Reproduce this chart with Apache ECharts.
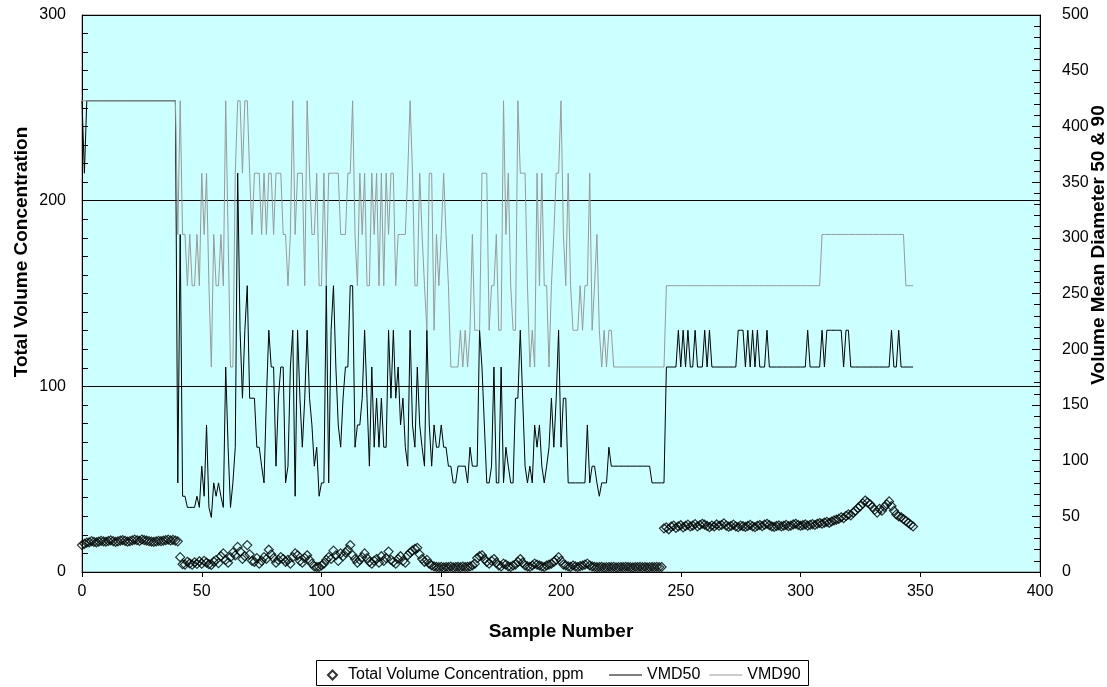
<!DOCTYPE html>
<html>
<head>
<meta charset="utf-8">
<title>Total Volume Concentration and VMD</title>
<script src="https://cdn.jsdelivr.net/npm/echarts@6/dist/echarts.min.js"></script>
<style>
  html, body { margin: 0; padding: 0; background: #fff; }
  #main { width: 1107px; height: 687px; }
</style>
</head>
<body>
<div id="main"></div>
<script>
// sample numbers start at 0, one value per sample
var firstSample = 0;

// total volume concentration, ppm (left axis)
var concentration = [
  14.5, 15.2, 15.8, 16.0, 16.6, 16.2, 16.0, 16.4, 16.8, 16.5,
  16.3, 16.7, 17.0, 16.6, 16.2, 16.5, 16.9, 17.2, 16.8, 16.4,
  16.6, 17.0, 17.4, 17.1, 16.8, 17.5, 17.2, 16.9, 16.6, 16.4,
  16.2, 16.5, 16.8, 16.6, 16.9, 17.2, 17.4, 17.0, 17.3, 16.9,
  16.5, 8.0, 4.2, 4.0, 5.5, 4.6, 4.0, 5.2, 4.4, 5.8,
  4.5, 6.0, 5.0, 4.2, 3.8, 5.6, 6.4, 4.8, 8.5, 10.0,
  6.5, 5.0, 8.0, 10.5, 9.0, 13.5, 11.0, 7.0, 8.5, 14.5,
  9.5, 6.0, 5.5, 7.5, 4.5, 6.0, 8.0, 7.0, 12.0, 9.5,
  7.5, 5.0, 6.5, 8.0, 7.0, 5.5, 6.5, 4.5, 8.0, 10.0,
  9.0, 6.0, 5.0, 7.5, 9.0, 6.5, 4.5, 3.0, 2.7, 2.8,
  3.5, 4.5, 6.5, 8.0, 7.0, 11.5, 9.0, 6.0, 10.0, 8.5,
  10.5, 12.0, 14.5, 9.0, 7.0, 5.0, 6.5, 8.0, 10.0, 7.5,
  5.5, 4.5, 6.0, 7.0, 5.0, 8.5, 6.0, 7.5, 11.0, 6.5,
  5.5, 4.5, 7.0, 8.5, 6.0, 5.0, 9.0, 10.5, 11.5, 12.5,
  13.0, 9.5, 7.0, 5.5, 6.5, 4.5, 3.5, 3.0, 2.8, 2.6,
  2.8, 2.5, 2.7, 2.6, 2.9, 2.5, 2.7, 2.8, 2.6, 2.9,
  2.7, 2.8, 3.0, 3.5, 4.5, 7.5, 8.5, 9.0, 7.0, 5.5,
  4.5, 6.0, 7.0, 5.0, 3.5, 3.0, 4.5, 4.0, 3.0, 2.8,
  3.5, 4.0, 5.5, 7.0, 5.0, 3.5, 3.0, 2.8, 3.5, 4.5,
  4.0, 3.5, 3.0, 2.7, 3.5, 4.0, 4.5, 5.5, 6.5, 8.0,
  6.0, 4.0, 3.5, 3.0, 2.8, 3.5, 3.0, 2.7, 3.2, 3.5,
  4.0, 4.5, 3.5, 3.0, 2.8, 2.6, 2.7, 2.8, 2.5, 2.6,
  2.7, 2.6, 2.8, 2.5, 2.6, 2.7, 2.6, 2.8, 2.7, 2.6,
  2.5, 2.7, 2.6, 2.8, 2.6, 2.7, 2.5, 2.6, 2.7, 2.6,
  2.8, 2.6, 2.7, 23.5, 24.0, 23.0, 24.5, 25.0, 23.8, 24.6,
  25.2, 24.0, 24.8, 25.5, 24.5, 25.0, 25.8, 24.6, 25.3, 26.0,
  25.5, 24.8, 24.2, 25.0, 24.5, 25.6, 24.9, 25.3, 26.2, 25.0,
  24.4, 24.8, 25.5, 24.6, 24.2, 25.0, 24.7, 24.3, 24.8, 25.4,
  24.6, 24.2, 24.9, 25.3, 24.7, 25.5, 26.0, 25.2, 24.6, 24.3,
  24.8, 25.1, 24.6, 24.9, 25.4, 24.7, 25.0, 25.6, 26.0, 25.3,
  24.9, 25.2, 25.6, 25.0, 25.4, 25.8, 25.3, 26.0, 26.4, 26.0,
  26.6, 27.0, 26.5, 27.2, 27.8, 28.2, 28.6, 29.5, 29.0, 30.2,
  31.0, 30.5, 32.0, 33.0, 34.5, 35.5, 37.0, 38.5, 37.5, 36.5,
  35.0, 33.5, 32.0, 34.0, 33.0, 35.0, 36.5, 38.0, 35.5, 33.0,
  31.0, 30.0, 29.5, 28.5, 27.5, 26.5, 25.5, 24.5
];

// VMD50 (right axis)
var vmd50 = [
  423, 358, 423, 423, 423, 423, 423, 423, 423, 423,
  423, 423, 423, 423, 423, 423, 423, 423, 423, 423,
  423, 423, 423, 423, 423, 423, 423, 423, 423, 423,
  423, 423, 423, 423, 423, 423, 423, 423, 423, 423,
  80, 303, 68, 68, 58, 58, 58, 58, 68, 58,
  95, 68, 132, 58, 49, 80, 68, 80, 68, 58,
  184, 112, 58, 80, 112, 358, 217, 156, 217, 257,
  156, 156, 156, 112, 112, 95, 80, 156, 217, 184,
  184, 95, 156, 184, 184, 80, 95, 184, 217, 68,
  217, 156, 112, 156, 217, 156, 132, 95, 112, 68,
  80, 80, 257, 80, 217, 257, 184, 132, 112, 156,
  184, 184, 257, 257, 112, 132, 132, 156, 217, 156,
  95, 184, 112, 156, 112, 156, 112, 112, 217, 156,
  217, 156, 184, 132, 156, 112, 95, 217, 132, 112,
  184, 132, 112, 95, 217, 132, 95, 132, 112, 112,
  132, 112, 112, 95, 95, 80, 80, 95, 95, 95,
  95, 80, 112, 95, 95, 95, 217, 184, 132, 80,
  80, 95, 184, 80, 80, 184, 80, 112, 95, 80,
  80, 156, 156, 217, 156, 95, 80, 95, 80, 132,
  112, 132, 95, 80, 95, 112, 156, 112, 156, 217,
  112, 156, 156, 80, 80, 80, 80, 80, 80, 80,
  80, 132, 80, 95, 95, 80, 68, 80, 80, 80,
  112, 95, 95, 95, 95, 95, 95, 95, 95, 95,
  95, 95, 95, 95, 95, 95, 95, 95, 80, 80,
  80, 80, 80, 80, 184, 184, 184, 184, 184, 217,
  184, 217, 184, 217, 184, 184, 217, 184, 184, 184,
  217, 184, 217, 184, 184, 184, 184, 184, 184, 184,
  184, 184, 184, 184, 217, 217, 217, 184, 217, 184,
  217, 184, 217, 184, 184, 184, 217, 184, 184, 184,
  184, 184, 184, 184, 184, 184, 184, 184, 184, 184,
  184, 184, 184, 217, 184, 184, 184, 184, 184, 217,
  184, 217, 217, 217, 217, 217, 217, 217, 184, 217,
  217, 184, 184, 184, 184, 184, 184, 184, 184, 184,
  184, 184, 184, 184, 184, 184, 184, 184, 217, 184,
  184, 217, 184, 184, 184, 184, 184, 184
];

// VMD90 (right axis)
var vmd90 = [
  423, 423, 423, 423, 423, 423, 423, 423, 423, 423,
  423, 423, 423, 423, 423, 423, 423, 423, 423, 423,
  423, 423, 423, 423, 423, 423, 423, 423, 423, 423,
  423, 423, 423, 423, 423, 423, 423, 423, 423, 423,
  303, 423, 303, 303, 257, 303, 257, 257, 303, 257,
  358, 303, 358, 257, 184, 303, 257, 257, 303, 257,
  423, 303, 184, 184, 358, 423, 423, 358, 423, 423,
  358, 303, 358, 358, 358, 303, 358, 303, 358, 358,
  303, 358, 358, 358, 303, 303, 257, 303, 423, 303,
  358, 358, 358, 257, 423, 358, 303, 303, 358, 257,
  257, 358, 257, 358, 358, 358, 358, 358, 303, 303,
  303, 358, 358, 423, 303, 257, 358, 303, 358, 257,
  257, 358, 303, 358, 257, 358, 257, 358, 303, 358,
  358, 257, 303, 303, 303, 303, 358, 423, 358, 257,
  257, 358, 303, 257, 217, 358, 358, 217, 303, 257,
  303, 358, 303, 257, 184, 184, 184, 184, 217, 184,
  217, 184, 217, 303, 217, 217, 217, 358, 358, 358,
  217, 257, 257, 303, 217, 217, 423, 303, 358, 257,
  217, 217, 423, 358, 358, 358, 257, 184, 217, 184,
  358, 257, 358, 257, 257, 184, 257, 303, 358, 358,
  423, 303, 257, 358, 257, 217, 217, 217, 257, 217,
  257, 257, 358, 217, 257, 303, 217, 184, 217, 184,
  217, 217, 184, 184, 184, 184, 184, 184, 184, 184,
  184, 184, 184, 184, 184, 184, 184, 184, 184, 184,
  184, 184, 184, 184, 257, 257, 257, 257, 257, 257,
  257, 257, 257, 257, 257, 257, 257, 257, 257, 257,
  257, 257, 257, 257, 257, 257, 257, 257, 257, 257,
  257, 257, 257, 257, 257, 257, 257, 257, 257, 257,
  257, 257, 257, 257, 257, 257, 257, 257, 257, 257,
  257, 257, 257, 257, 257, 257, 257, 257, 257, 257,
  257, 257, 257, 257, 257, 257, 257, 257, 257, 303,
  303, 303, 303, 303, 303, 303, 303, 303, 303, 303,
  303, 303, 303, 303, 303, 303, 303, 303, 303, 303,
  303, 303, 303, 303, 303, 303, 303, 303, 303, 303,
  303, 303, 303, 303, 257, 257, 257, 257
];

var seriesNames = ['Total Volume Concentration, ppm', 'VMD50', 'VMD90'];

function withSample(arr) {
  return arr.map(function (v, i) { return [firstSample + i, v]; });
}

var chart = echarts.init(document.getElementById('main'), null, { renderer: 'canvas' });
var font = "'Liberation Sans', Arial, sans-serif";

var option = {
  animation: false,
  backgroundColor: '#ffffff',
  textStyle: { fontFamily: font, color: '#000' },
  grid: {
    left: 82, right: 67, top: 15, bottom: 115,
    show: true,
    backgroundColor: '#CCFFFF',
    borderColor: '#808080',
    borderWidth: 1
  },
  legend: [
    {
      // diamond marker, text set off to the right
      data: [seriesNames[0]],
      left: 322, top: 662,
      icon: 'diamond',
      itemWidth: 9, itemHeight: 9,
      textStyle: { fontFamily: font, fontSize: 16, color: '#000', padding: [0, 0, 0, 6] }
    },
    {
      data: [
        { name: seriesNames[1], icon: 'rect' },
        { name: seriesNames[2], icon: 'rect' }
      ],
      left: 604, top: 662,
      itemWidth: 33, itemHeight: 1, itemGap: 9,
      textStyle: { fontFamily: font, fontSize: 16, color: '#000' }
    }
  ],
  graphic: [
    {
      type: 'rect',
      shape: { x: 316.5, y: 660.5, width: 492, height: 25 },
      style: { fill: 'none', stroke: '#000', lineWidth: 1 }
    },
    {
      type: 'text',
      x: 22, y: 252, rotation: Math.PI / 2,
      style: {
        text: 'Total Volume Concentration',
        font: 'bold 19px ' + font,
        fill: '#000', textAlign: 'center', textVerticalAlign: 'middle'
      }
    },
    {
      type: 'text',
      x: 1099, y: 245, rotation: Math.PI / 2,
      style: {
        text: 'Volume Mean Diameter 50 & 90',
        font: 'bold 19px ' + font,
        fill: '#000', textAlign: 'center', textVerticalAlign: 'middle'
      }
    }
  ],
  xAxis: {
    type: 'value',
    min: 0, max: 400, interval: 50,
    name: 'Sample Number',
    nameLocation: 'middle',
    nameGap: 50,
    nameTextStyle: { fontFamily: font, fontSize: 19, fontWeight: 'bold', color: '#000' },
    axisLine: { lineStyle: { color: '#000', width: 1 } },
    axisTick: { show: true, inside: false, length: 5, lineStyle: { color: '#000' } },
    axisLabel: { fontFamily: font, fontSize: 16, color: '#000', margin: 12 },
    splitLine: { show: false }
  },
  yAxis: [
    {
      type: 'value',
      position: 'left',
      min: 0, max: 300, interval: 100,
      axisLine: { show: true, lineStyle: { color: '#000', width: 1 } },
      axisTick: { show: true, inside: true, length: 8, lineStyle: { color: '#000' } },
      minorTick: { show: true, splitNumber: 10, length: 6, lineStyle: { color: '#000' } },
      axisLabel: { fontFamily: font, fontSize: 16, color: '#000', margin: 16 },
      splitLine: { show: true, lineStyle: { color: '#000', width: 1 } }
    },
    {
      type: 'value',
      position: 'right',
      min: 0, max: 500, interval: 50,
      axisLine: { show: true, lineStyle: { color: '#000', width: 1 } },
      axisTick: { show: true, inside: true, length: 8, lineStyle: { color: '#000' } },
      minorTick: { show: true, splitNumber: 5, length: 6, lineStyle: { color: '#000' } },
      axisLabel: { fontFamily: font, fontSize: 16, color: '#000', margin: 22 },
      splitLine: { show: false }
    }
  ],
  series: [
    {
      name: seriesNames[0],
      type: 'scatter',
      yAxisIndex: 0,
      symbol: 'diamond',
      symbolSize: 9,
      itemStyle: { color: 'rgba(0,0,0,0)', borderColor: '#000', borderWidth: 1.2 },
      data: withSample(concentration)
    },
    {
      name: seriesNames[1],
      type: 'line',
      yAxisIndex: 1,
      symbol: 'none',
      color: '#000',
      lineStyle: { color: '#000', width: 1 },
      data: withSample(vmd50)
    },
    {
      name: seriesNames[2],
      type: 'line',
      yAxisIndex: 1,
      symbol: 'none',
      color: '#999999',
      lineStyle: { color: '#999999', width: 1 },
      data: withSample(vmd90)
    }
  ]
};

chart.setOption(option);
</script>
</body>
</html>
